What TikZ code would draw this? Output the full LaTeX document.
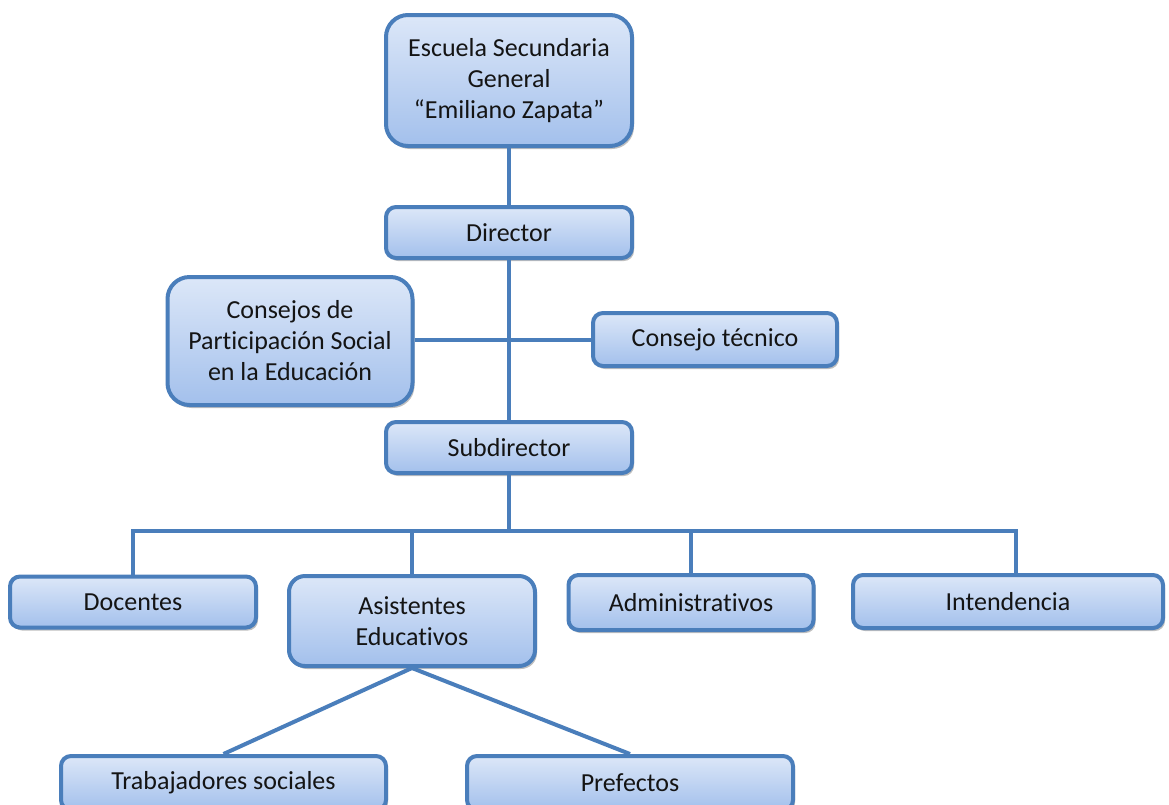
\documentclass[tikz,border=0pt]{standalone}
\usepackage{fontspec}
\setmainfont{Carlito}[Ligatures=NoCommon]
\usetikzlibrary{shadows}
\definecolor{edgeblue}{RGB}{74,126,187}
\definecolor{filltop}{RGB}{220,231,248}
\definecolor{fillbot}{RGB}{163,192,236}
\definecolor{txt}{RGB}{20,20,20}
\tikzset{
  orgbox/.style={draw=edgeblue, line width=4pt, rounded corners=10pt,
    top color=filltop, bottom color=fillbot, align=center, text=txt,
    font=\fontsize{26}{31}\selectfont, inner sep=0pt,
    drop shadow={shadow xshift=2pt, shadow yshift=-3pt, fill=black, opacity=0.25}},
  bigbox/.style={orgbox, rounded corners=22pt},
  link/.style={draw=edgeblue, line width=4pt}
}
\begin{document}
\begin{tikzpicture}[x=1pt,y=-1pt]
\useasboundingbox (0,0) rectangle (1169,804);
\fill[white] (0,0) rectangle (1169,804);
\coordinate (bus) at (509,531);
\coordinate (busL) at (133,531);
\coordinate (busR) at (1016,531);
\node[bigbox, minimum width=246pt, minimum height=131pt] (esc) at (509,80.5) {Escuela Secundaria\\General\\“Emiliano Zapata”};
\node[orgbox, minimum width=246pt, minimum height=51pt] (dir) at (509,232.5) {Director};
\node[bigbox, minimum width=245pt, minimum height=128pt] (cps) at (290,341) {Consejos de\\Participación Social\\en la Educación};
\node[orgbox, minimum width=244pt, minimum height=53pt] (ct) at (715,339.5) {Consejo técnico};
\node[orgbox, minimum width=246pt, minimum height=51pt] (sub) at (509,447.5) {Subdirector};
\node[orgbox, minimum width=246pt, minimum height=51pt] (doc) at (133,602) {Docentes};
\node[orgbox, rounded corners=16pt, minimum width=246pt, minimum height=90pt] (asi) at (412,621) {Asistentes\\Educativos};
\node[orgbox, minimum width=245pt, minimum height=55pt] (adm) at (691,602.5) {Administrativos};
\node[orgbox, minimum width=310pt, minimum height=53pt] (int) at (1008,601.5) {Intendencia};
\node[orgbox, minimum width=325pt, minimum height=54pt] (tra) at (223.5,783) {Trabajadores sociales};
\node[orgbox, minimum width=326pt, minimum height=54pt] (pre) at (630,783) {Prefectos};
\draw[link] (esc.south) -- (dir.north);
\draw[link] (dir.south) -- (sub.north);
\draw[link] (cps.east |- ct.west) -- (ct.west);
\draw[link] (sub.south) -- (bus);
\draw[link] (doc.north) -- (busL) -- (busR) -- (busR |- int.north);
\draw[link] (asi.north) -- (asi.north |- bus);
\draw[link] (adm.north) -- (adm.north |- bus);
\draw[link] (asi.south) -- (tra.north);
\draw[link] (asi.south) -- (pre.north);
\end{tikzpicture}
\end{document}
